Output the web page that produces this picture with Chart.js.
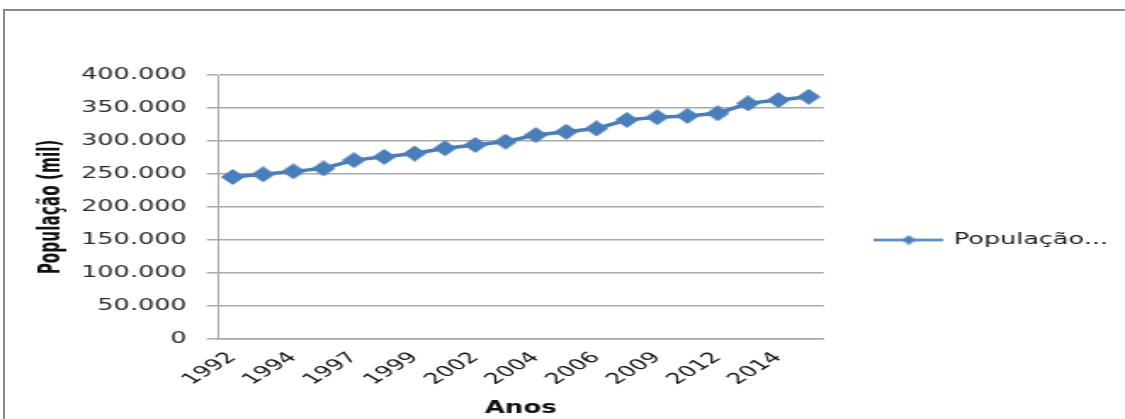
<!DOCTYPE html>
<html>
<head>
<meta charset="utf-8">
<script src="https://cdn.jsdelivr.net/npm/chart.js@4"></script>
<style>
  body { margin: 0; background: #fff; overflow: hidden; }
  #moldura { position: absolute; left: 3px; top: 9px; width: 1140px; height: 430px;
             border-left: 2px solid #8a8a8a; border-top: 2px solid #8a8a8a; }
  #myChart { position: absolute; left: 0; top: 0; }
</style>
</head>
<body>
<div id="moldura"></div>
<canvas id="myChart" width="662" height="419" style="width:1125px;height:419px"></canvas>
<script>
// dados
const anos = ['1992', '1993', '1994', '1996', '1997', '1998', '1999', '2001', '2002', '2003',
              '2004', '2005', '2006', '2008', '2009', '2011', '2012', '2013', '2014', '2015'];
const populacao = [245500, 249500, 254000, 258500, 271000, 276000, 281000, 289000, 294000, 299000,
                   309000, 314000, 319000, 332000, 336000, 338000, 342000, 357000, 362000, 367000];
const anosVisiveis = ['1992', '1994', '1997', '1999', '2002', '2004', '2006', '2009', '2012', '2014'];
const rotuloSerie = 'População...';

const azul = '#4a7ebb';
const cinza = '#a8a8a8';

// o grafico original esta esticado na horizontal, o canvas tambem
function losango(w, h) {
    const c = document.createElement('canvas');
    c.width = w; c.height = h;
    const g = c.getContext('2d');
    g.fillStyle = azul;
    g.beginPath();
    g.moveTo(w / 2, 0); g.lineTo(w, h / 2); g.lineTo(w / 2, h); g.lineTo(0, h / 2);
    g.closePath();
    g.fill();
    return c;
}

function amostraLegenda() {
    const c = document.createElement('canvas');
    c.width = 41; c.height = 15;
    const g = c.getContext('2d');
    g.strokeStyle = azul;
    g.lineWidth = 2.5;
    g.beginPath(); g.moveTo(0, 7.5); g.lineTo(41, 7.5); g.stroke();
    g.drawImage(losango(8, 10), 16.5, 2.5);
    return c;
}

function milhar(v) {
    return String(v).replace(/\B(?=(\d{3})+(?!\d))/g, '.');
}

const ctx = document.getElementById('myChart').getContext('2d');

const myChart = new Chart(ctx, {
    type: 'line',
    data: {
        labels: anos,
        datasets: [{
            label: rotuloSerie,
            data: populacao,
            borderColor: azul,
            backgroundColor: azul,
            borderWidth: 3.5,
            tension: 0,
            fill: false,
            pointStyle: losango(14, 16),
            pointRadius: 7
        }]
    },
    options: {
        responsive: false,
        animation: false,
        devicePixelRatio: 1,
        // padding de baixo so para a legenda ficar na altura certa
        layout: { padding: { left: 20, top: 75, right: 0, bottom: 14 } },
        plugins: {
            tooltip: { enabled: false },
            legend: {
                position: 'right',
                align: 'center',
                maxWidth: 220,
                labels: {
                    usePointStyle: true,
                    pointStyle: amostraLegenda(),
                    pointStyleWidth: 38,
                    padding: 31,
                    color: '#1a1a1a',
                    font: { family: 'DejaVu Sans', size: 15 }
                }
            }
        },
        scales: {
            x: {
                type: 'category',
                offset: true,
                grid: { display: false },
                border: { display: true, color: cinza, width: 1.5 },
                ticks: {
                    autoSkip: false,
                    maxRotation: 45,
                    minRotation: 45,
                    padding: 2,
                    color: '#111',
                    font: { family: 'DejaVu Sans', size: 15 },
                    callback: function (val, i) {
                        const a = this.getLabelForValue(val);
                        return anosVisiveis.includes(a) ? a : '';
                    }
                },
                title: {
                    display: true,
                    text: 'Anos',
                    color: '#111',
                    padding: { top: 0, bottom: -14 },
                    font: { family: "'Liberation Sans Narrow', 'DejaVu Sans Condensed', 'Liberation Sans'", size: 17, weight: 'bold' }
                },
                afterFit: function (s) { s.height = 66; }
            },
            y: {
                min: 0,
                max: 400000,
                grid: { color: cinza, lineWidth: 1.5, tickLength: 6.4 },
                border: { display: true, color: cinza, width: 1 },
                ticks: {
                    stepSize: 50000,
                    padding: 11.8,
                    color: '#2a2a2a',
                    font: { family: 'DejaVu Sans', size: 15 },
                    callback: function (v) { return milhar(v); }
                },
                title: {
                    display: true,
                    text: 'População (mil)',
                    color: '#111',
                    padding: 0,
                    font: { family: "'Liberation Sans Narrow', 'DejaVu Sans Condensed', 'Liberation Sans'", size: 17, weight: 'bold' }
                },
                afterFit: function (s) { s.width = 108; }
            }
        }
    }
});
</script>
</body>
</html>
